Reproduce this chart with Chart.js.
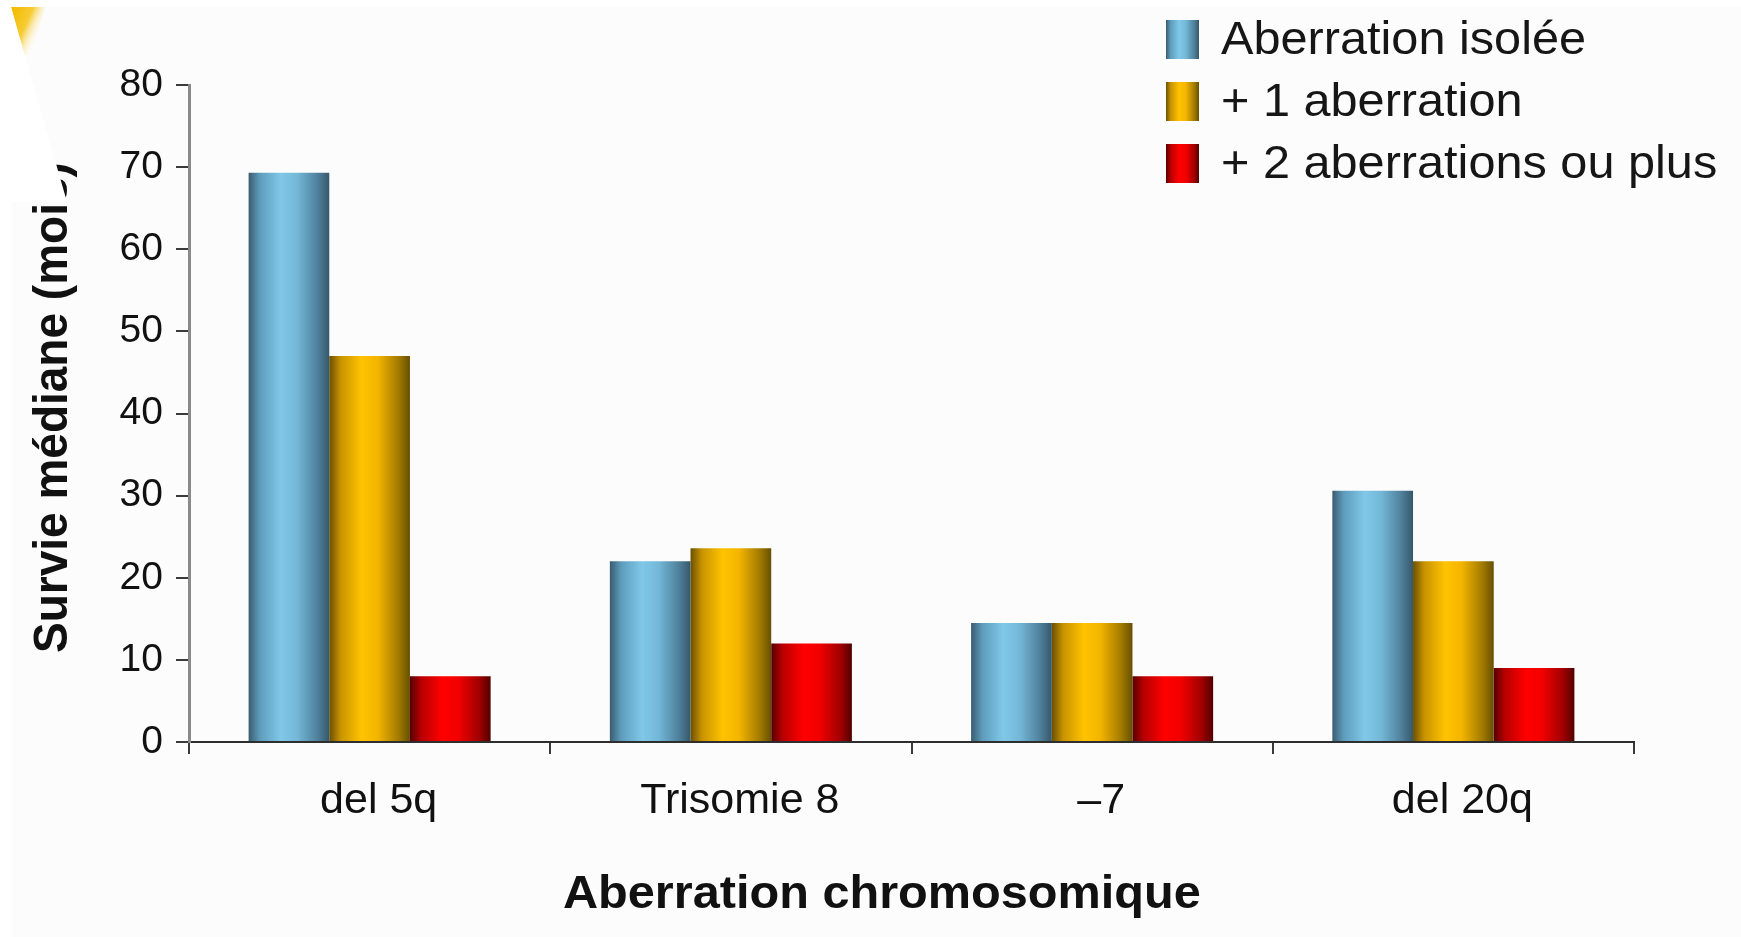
<!DOCTYPE html>
<html lang="fr">
<head>
<meta charset="utf-8">
<title>Survie médiane selon l'aberration chromosomique</title>
<script src="https://cdn.jsdelivr.net/npm/chart.js@4.4.0/dist/chart.umd.min.js"></script>
<style>
  html, body { margin: 0; padding: 0; background: #ffffff; }
  canvas { display: block; }
</style>
</head>
<body>
<canvas id="chart" width="1741" height="937"></canvas>
<script>
// Categories on the x axis
const categories = ['del 5q', 'Trisomie 8', '\u20137', 'del 20q'];

// Median survival (months) per series
const isolee   = [69.3, 22, 14.5, 30.6];
const plusUne  = [47, 23.6, 14.5, 22];
const plusDeux = [8, 12, 8, 9];

const seriesNames = ['Aberration isolée', '+ 1 aberration', '+ 2 aberrations ou plus'];

// Axis captions
const xCaption = 'Aberration chromosomique';
const yCaption = 'Survie médiane (mois)';

// Y axis range and step
const yMin = 0;
const yMax = 80;
const yStep = 10;

// Cylinder-like shading for each series (left edge -> right edge)
const shadeStops = [0, 0.14, 0.4, 0.6, 0.86, 1];
const shades = [
  ['#3a5c70', '#5e9cbc', '#80c8e8', '#74b8d8', '#4e7f9a', '#375769'],
  ['#6b5000', '#c89300', '#ffc300', '#f4b500', '#a27a00', '#665000'],
  ['#560000', '#b80000', '#ff0000', '#f20000', '#a00000', '#520000']
];

const FONT = "'Liberation Sans', Arial, Helvetica, sans-serif";
const TEXT_STRETCH = 1.035;   // slightly wide lettering
Chart.defaults.font.family = FONT;
Chart.defaults.color = '#111111';

function shadeGradient(ctx, x0, x1, idx) {
  const g = ctx.createLinearGradient(x0, 0, x1, 0);
  shadeStops.forEach((p, i) => g.addColorStop(p, shades[idx][i]));
  return g;
}

// Stretched text helper
function wideText(ctx, text, x, y, align) {
  ctx.save();
  ctx.translate(x, y);
  ctx.scale(TEXT_STRETCH, 1);
  ctx.textAlign = align;
  ctx.fillText(text, 0, 0);
  ctx.restore();
}

// Axis captions placed relative to the plotting area
const axisCaptions = {
  id: 'axisCaptions',
  afterDraw(chart) {
    const ctx = chart.ctx;
    const area = chart.chartArea;
    ctx.save();
    ctx.fillStyle = '#111111';
    // x caption
    ctx.textBaseline = 'middle';
    ctx.font = 'bold 47px ' + FONT;
    wideText(ctx, xCaption, area.left + (area.right - area.left) * 0.4795, 895, 'center');
    // y caption, rotated, reading upwards from its baseline
    ctx.textBaseline = 'alphabetic';
    ctx.font = 'bold 46px ' + FONT;
    ctx.translate(67, area.bottom - 89);
    ctx.rotate(-Math.PI / 2);
    ctx.scale(1, 1.06);
    ctx.textAlign = 'left';
    ctx.fillText(yCaption, 0, 0);
    ctx.restore();
  }
};

// Page background and the top-left corner decoration
const backdrop = {
  id: 'backdrop',
  beforeDraw(chart) {
    const ctx = chart.ctx;
    ctx.save();
    ctx.fillStyle = '#ffffff';
    ctx.fillRect(0, 0, chart.width, chart.height);
    ctx.fillStyle = '#fcfcfc';
    ctx.fillRect(11, 7, chart.width - 11, chart.height - 7);
    ctx.restore();
  },
  afterDraw(chart) {
    const ctx = chart.ctx;
    ctx.save();
    // yellow wedge fading to white
    const g = ctx.createLinearGradient(14, 8, 46, 22);
    g.addColorStop(0, 'rgba(242,188,0,1)');
    g.addColorStop(0.5, 'rgba(246,198,30,0.9)');
    g.addColorStop(1, 'rgba(255,255,255,0)');
    ctx.fillStyle = g;
    ctx.beginPath();
    ctx.moveTo(11, 7);
    ctx.lineTo(45, 7);
    ctx.lineTo(33, 55);
    ctx.lineTo(24, 55);
    ctx.closePath();
    ctx.fill();
    // white flap
    ctx.fillStyle = '#ffffff';
    ctx.beginPath();
    ctx.moveTo(11, 7);
    ctx.lineTo(67, 202);
    ctx.lineTo(11, 202);
    ctx.closePath();
    ctx.fill();
    ctx.restore();
  }
};

// Shaded bars: gradient spans each bar's own width
const cylinderFill = {
  id: 'cylinderFill',
  beforeDatasetsDraw(chart) {
    const ctx = chart.ctx;
    chart.data.datasets.forEach((ds, di) => {
      const meta = chart.getDatasetMeta(di);
      meta.data.forEach(bar => {
        const { x, width } = bar.getProps(['x', 'width'], true);
        const g = shadeGradient(ctx, x - width / 2, x + width / 2, di);
        bar.options = Object.assign({}, bar.options, { backgroundColor: g });
      });
    });
  }
};

// Legend in the top-right corner
const cornerLegend = {
  id: 'cornerLegend',
  afterDraw(chart) {
    const ctx = chart.ctx;
    const boxX = 1166, boxW = 33, boxH = 39;
    const firstY = 39.5, pitch = 62;
    ctx.save();
    ctx.font = '47px ' + FONT;
    ctx.textBaseline = 'middle';
    chart.data.datasets.forEach((ds, i) => {
      const cy = firstY + i * pitch;
      ctx.fillStyle = shadeGradient(ctx, boxX, boxX + boxW, i);
      ctx.fillRect(boxX, cy - boxH / 2, boxW, boxH);
      ctx.fillStyle = '#161616';
      wideText(ctx, ds.label, 1221, cy + 2, 'left');
    });
    ctx.restore();
  }
};

const datasets = [isolee, plusUne, plusDeux].map((values, i) => ({
  label: seriesNames[i],
  data: values,
  backgroundColor: shades[i][2],
  borderWidth: 0,
  categoryPercentage: 0.67,
  barPercentage: 1.0
}));

new Chart(document.getElementById('chart'), {
  type: 'bar',
  data: { labels: categories, datasets },
  options: {
    responsive: false,
    animation: false,
    devicePixelRatio: 1,
    layout: { padding: { top: 85, right: 107, bottom: 0, left: 0 } },
    plugins: {
      legend: { display: false },
      tooltip: { enabled: false }
    },
    scales: {
      x: {
        grid: { offset: true, drawOnChartArea: false, drawTicks: true, tickLength: 12, color: '#3a3a3a', lineWidth: 2 },
        border: { display: true, color: '#2e2e2e', width: 2 },
        ticks: { color: '#111111', font: { size: 43 }, padding: 21, labelOffset: 9 },
        afterFit(scale) { scale.height = 195; }
      },
      y: {
        min: yMin,
        max: yMax,
        grid: { drawOnChartArea: false, drawTicks: true, tickLength: 13, color: '#3a3a3a', lineWidth: 2 },
        border: { display: true, color: '#8a8a8a', width: 3 },
        ticks: { stepSize: yStep, color: '#111111', font: { size: 39 }, padding: 13 },
        afterFit(scale) { scale.width = 189; }
      }
    }
  },
  plugins: [axisCaptions, backdrop, cylinderFill, cornerLegend]
});
</script>
</body>
</html>
